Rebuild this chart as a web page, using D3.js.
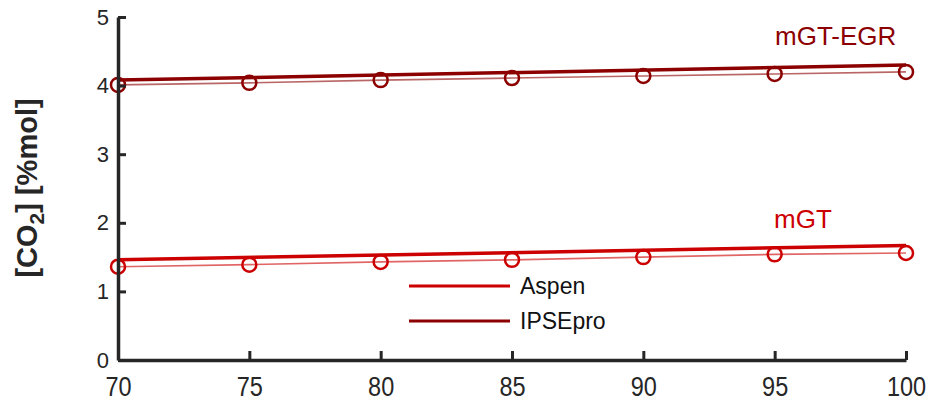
<!DOCTYPE html>
<html>
<head>
<meta charset="utf-8">
<style>
    body { margin: 0; background: #fff; }
    svg text { font-family: Arial, "Liberation Sans", Helvetica, sans-serif; }
</style>
</head>
<body>
<div id="chart"></div>
<script src="https://cdn.jsdelivr.net/npm/d3@7"></script>
<script>
    // load (%) on x, CO2 content [%mol] on y
    var loads = [70, 75, 80, 85, 90, 95, 100];

    // thick lines (two end points each)
    var egrLineX = [70, 100],
        egrLineY = [4.08, 4.30];
    var gtLineX = [70, 100],
        gtLineY = [1.46, 1.67];

    // circles + thin line
    var egrPoints = [4.01, 4.04, 4.08, 4.11, 4.14, 4.17, 4.20];
    var gtPoints = [1.36, 1.39, 1.43, 1.46, 1.50, 1.54, 1.56];

    var xTicks = [70, 75, 80, 85, 90, 95, 100];
    var yTicks = [0, 1, 2, 3, 4, 5];

    var legendNames = ["Aspen", "IPSEpro"];
    var seriesLabels = ["mGT-EGR", "mGT"];

    var red = "#cc0000",
        darkRed = "#8c0000",
        axisColor = "#262626";

    var width = 928,
        height = 401;

    var svg = d3.select("#chart").append("svg")
        .attr("width", width)
        .attr("height", height);

    var x = d3.scaleLinear().domain([70, 100]).range([118, 906]);
    var y = d3.scaleLinear().domain([0, 5]).range([360, 17]);

    var line = d3.line()
        .x(function(d) { return x(d[0]); })
        .y(function(d) { return y(d[1]); });

    // thin lines through circles
    function thin(vals, color) {
        svg.append("path")
            .datum(loads.map(function(l, i) { return [l, vals[i]]; }))
            .attr("d", line)
            .attr("fill", "none")
            .attr("stroke", color)
            .attr("stroke-opacity", 0.6)
            .attr("stroke-width", 1.6);
    }
    thin(egrPoints, darkRed);
    thin(gtPoints, red);

    // thick lines
    function thick(xs, ys, color) {
        svg.append("path")
            .datum(xs.map(function(v, i) { return [v, ys[i]]; }))
            .attr("d", line)
            .attr("fill", "none")
            .attr("stroke", color)
            .attr("stroke-width", 3.5);
    }
    thick(egrLineX, egrLineY, darkRed);
    thick(gtLineX, gtLineY, red);

    // circles
    function dots(vals, color) {
        svg.append("g").selectAll("circle")
            .data(vals)
            .enter().append("circle")
            .attr("cx", function(d, i) { return x(loads[i]); })
            .attr("cy", function(d) { return y(d); })
            .attr("r", 7)
            .attr("fill", "none")
            .attr("stroke", color)
            .attr("stroke-width", 2.5);
    }
    dots(egrPoints, darkRed);
    dots(gtPoints, red);

    // axes
    var xAxis = svg.append("g")
        .attr("transform", "translate(0," + y(0) + ")")
        .call(d3.axisBottom(x).tickValues(xTicks).tickFormat(d3.format("d"))
            .tickSizeInner(-9).tickSizeOuter(0).tickPadding(0));
    xAxis.selectAll("text")
        .attr("y", 0)
        .attr("dy", 0)
        .attr("transform", "translate(0,36) scale(0.84,1)")
        .attr("font-size", "28px");

    var yAxis = svg.append("g")
        .attr("transform", "translate(" + x(70) + ",0)")
        .call(d3.axisLeft(y).tickValues(yTicks).tickFormat(d3.format("d"))
            .tickSizeInner(-8).tickSizeOuter(0).tickPadding(9));
    yAxis.selectAll("text")
        .attr("font-size", "22px");

    [xAxis, yAxis].forEach(function(a) {
        a.attr("font-family", null);
        a.select(".domain").attr("stroke", axisColor).attr("stroke-width", 3.5);
        a.selectAll(".tick line").attr("stroke", axisColor).attr("stroke-width", 3);
        a.selectAll(".tick text").attr("fill", axisColor);
    });

    // y label
    var ylab = svg.append("text")
        .attr("transform", "translate(37,188) rotate(-90)")
        .attr("text-anchor", "middle")
        .attr("font-size", "29px")
        .attr("font-weight", "bold")
        .attr("fill", axisColor);
    ylab.append("tspan").text("[CO");
    ylab.append("tspan").attr("font-size", "21px").attr("dy", 7).text("2");
    ylab.append("tspan").attr("dy", -7).text("] [%mol]");

    // series labels
    svg.append("text")
        .attr("x", 775).attr("y", 45)
        .attr("font-size", "26px")
        .attr("fill", darkRed)
        .text(seriesLabels[0]);
    svg.append("text")
        .attr("x", 774).attr("y", 228)
        .attr("font-size", "26px")
        .attr("fill", red)
        .text(seriesLabels[1]);

    // legend
    var legendColors = [red, darkRed];
    var legend = svg.append("g").selectAll("g")
        .data(legendNames)
        .enter().append("g")
        .attr("transform", function(d, i) { return "translate(409," + (286 + i * 35) + ")"; });
    legend.append("line")
        .attr("x1", 0).attr("x2", 101)
        .attr("stroke", function(d, i) { return legendColors[i]; })
        .attr("stroke-width", 3);
    legend.append("text")
        .attr("x", 111).attr("y", 8)
        .attr("font-size", "23px")
        .attr("fill", "#111")
        .text(function(d) { return d; });
</script>
</body>
</html>
